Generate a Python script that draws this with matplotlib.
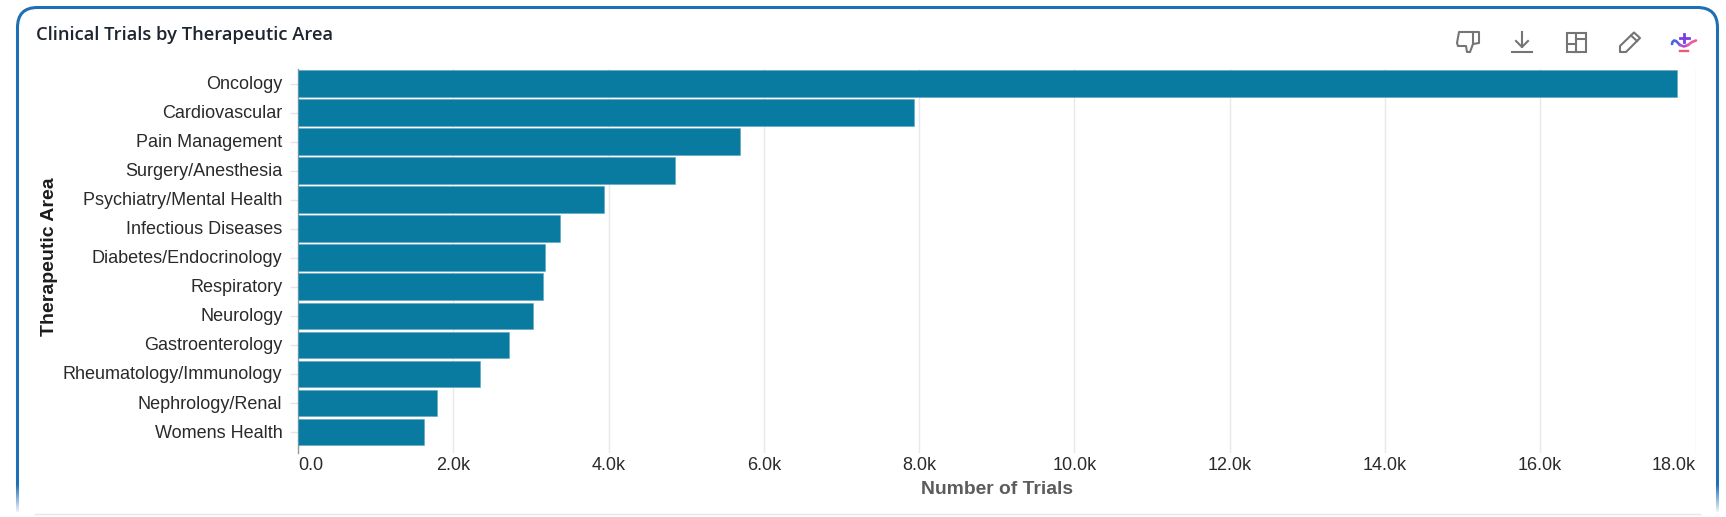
import matplotlib
matplotlib.use("Agg")
import matplotlib.pyplot as plt
import numpy as np
from matplotlib.patches import Rectangle, Polygon, PathPatch
from matplotlib.path import Path
from matplotlib.transforms import ScaledTranslation

# data
areas = ['Oncology', 'Cardiovascular', 'Pain Management', 'Surgery/Anesthesia',
         'Psychiatry/Mental Health', 'Infectious Diseases', 'Diabetes/Endocrinology',
         'Respiratory', 'Neurology', 'Gastroenterology', 'Rheumatology/Immunology',
         'Nephrology/Renal', 'Womens Health']
trials = [17760, 7940, 5690, 4850, 3940, 3370, 3180, 3160, 3030, 2720, 2340, 1795, 1620]
x_ticks = [0, 2000, 4000, 6000, 8000, 10000, 12000, 14000, 16000, 18000]
x_labels = ['0.0', '2.0k', '4.0k', '6.0k', '8.0k', '10.0k', '12.0k', '14.0k', '16.0k', '18.0k']

W, H = 1726, 517
plt.rcParams['font.family'] = ['Liberation Sans', 'DejaVu Sans']

fig = plt.figure(figsize=(W / 100, H / 100), dpi=100, facecolor='white')

# overlay in pixel coordinates for the card and the toolbar
chrome = fig.add_axes([0, 0, 1, 1], zorder=3)
chrome.set_xlim(0, W)
chrome.set_ylim(H, 0)
chrome.axis('off')
chrome.patch.set_alpha(0)

# chart area
left, right, top, bottom = 298, 1695.5, 69, 453
ax = fig.add_axes([left / W, 1 - bottom / H, (right - left) / W, (bottom - top) / H], zorder=1)
ypos = np.arange(len(areas))
ax.barh(ypos, trials, height=0.92, color='#0a7ba0', edgecolor='#5aa6c0', linewidth=0.4, zorder=3)
ax.set_xlim(0, 18000)
ax.set_ylim(12.72, -0.5)
ax.set_yticks(ypos)
ax.set_yticklabels(areas, fontsize=12.95, color='#2a2a2a', va='center')
ax.set_xticks(x_ticks)
ax.set_xticklabels(x_labels, fontsize=12.95, color='#2a2a2a')
ax.tick_params(axis='y', length=6, width=1, color='#e4e4e4', pad=5.2)
ax.tick_params(axis='x', length=0, pad=3)
ax.xaxis.get_majorticklabels()[0].set_ha('left')
ax.xaxis.get_majorticklabels()[-1].set_ha('right')
# nudge the category labels down a pixel
nudge = ScaledTranslation(0, -1 / 100, fig.dpi_scale_trans)
for lab in ax.get_yticklabels():
    lab.set_transform(lab.get_transform() + nudge)
ax.grid(axis='x', color='#e8e8e8', linewidth=1, zorder=0)
for s in ['top', 'right', 'bottom']:
    ax.spines[s].set_visible(False)
ax.spines['left'].set_color('#9a9a9a')
ax.spines['left'].set_linewidth(1)

# axis titles
chrome.text(997, 489, 'Number of Trials', ha='center', va='center', fontsize=13.9,
            fontweight='bold', color='#5c5c5c')
chrome.text(49, 257, 'Therapeutic Area', ha='center', va='center', rotation=90,
            fontsize=14, fontweight='bold', color='#1c1c1c')
chrome.text(36, 35.5, 'Clinical Trials by Therapeutic Area', ha='left', va='center',
            fontsize=13.2, fontweight='semibold', color='#1d2530',
            family=['Open Sans', 'DejaVu Sans'])

# card border, open at the bottom
r = 20
L, R, T, B = 17.5, 1717.5, 7.5, 512
verts = [(L, B), (L, T + r), (L, T), (L + r, T), (R - r, T), (R, T), (R, T + r), (R, B)]
codes = [Path.MOVETO, Path.LINETO, Path.CURVE3, Path.CURVE3, Path.LINETO,
         Path.CURVE3, Path.CURVE3, Path.LINETO]
chrome.add_patch(PathPatch(Path(verts, codes), fill=False, edgecolor='#1f6fb4', linewidth=2.2))

# fade the border out near the bottom
fade = np.ones((64, 1, 4))
fade[:, 0, 3] = np.linspace(0, 1, 64)
for x0 in (12, 1712):
    chrome.imshow(fade, extent=(x0, x0 + 12, 514, 484), aspect='auto', zorder=4)
chrome.set_xlim(0, W)
chrome.set_ylim(H, 0)

# next card's edge below
chrome.plot([35, 1700], [513.5, 513.5], color='#e6e6e6', lw=1, zorder=5)

# toolbar icons
gray = '#757575'
lw = 1.5
# thumbs down
thumb = [(1459, 32), (1479, 32), (1479, 43), (1473, 44), (1470, 52), (1467, 52),
         (1466, 46), (1458, 46), (1457, 43)]
chrome.add_patch(Polygon(thumb, closed=True, fill=False, edgecolor=gray, lw=lw, joinstyle='round'))
chrome.plot([1473, 1473], [32, 44], color=gray, lw=lw)
# download
chrome.plot([1522, 1522], [32, 47], color=gray, lw=lw)
chrome.plot([1516, 1522, 1528], [41, 47, 41], color=gray, lw=lw)
chrome.plot([1512, 1532], [51.5, 51.5], color=gray, lw=lw)
# layout
chrome.add_patch(Rectangle((1566.5, 32.5), 19.5, 19.5, fill=False, edgecolor=gray, lw=lw))
chrome.plot([1576, 1576], [32.5, 52], color=gray, lw=lw)
chrome.plot([1566.5, 1576], [44, 44], color=gray, lw=lw)
chrome.plot([1576, 1586], [39, 39], color=gray, lw=lw)
# pencil
pencil = [(1620, 52), (1620, 46), (1634, 32.5), (1640, 38), (1626, 52)]
chrome.add_patch(Polygon(pencil, closed=True, fill=False, edgecolor=gray, lw=lw, joinstyle='round'))
chrome.plot([1631, 1637], [35.5, 41], color=gray, lw=lw)
# assistant lamp
chrome.plot([1672, 1672.5, 1674, 1676, 1678, 1680], [44, 42, 40.5, 41, 43, 45],
            color='#4a63e0', lw=1.9, solid_capstyle='round')
chrome.plot([1680, 1684, 1688], [45, 46.5, 45], color='#b24fd0', lw=1.9)
chrome.plot([1688, 1692, 1696], [45, 42, 40.5], color='#ec5aa6', lw=1.9, solid_capstyle='round')
chrome.plot([1684, 1684], [33.5, 41.5], color='#7a3fe0', lw=2)
chrome.plot([1679.5, 1688.5], [37.7, 37.7], color='#7a3fe0', lw=2)
chrome.plot([1680, 1687.5], [50.5, 50.5], color='#f05a70', lw=1.7)

fig.savefig('out.png', dpi=100, facecolor='white')
